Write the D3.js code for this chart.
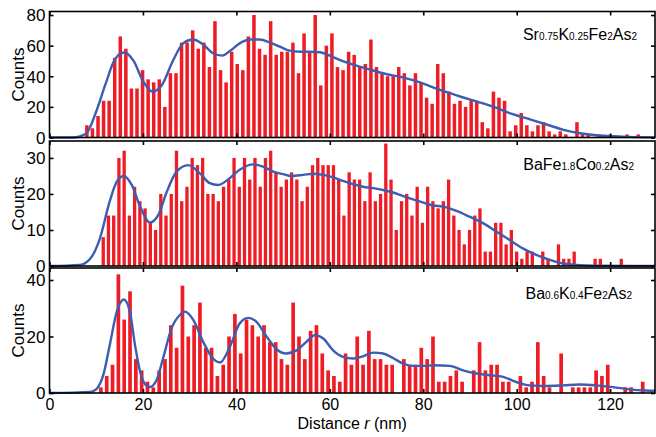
<!DOCTYPE html>
<html>
<head>
<meta charset="utf-8">
<script src="https://cdn.jsdelivr.net/npm/d3@7"></script>
<style>
body { margin: 0; background: #fff; }
text { font-family: "Liberation Sans Narrow", "Liberation Sans", Arial, sans-serif; fill: #000; }
</style>
</head>
<body>
<svg id="chart" width="656" height="437"></svg>
<script>
// histogram bins: first bin centre and bin width (nm) for each sample
var start1 = 8.0, step1 = 1.192;
var start2 = 11.5, step2 = 1.12;
var start3 = 11.0, step3 = 1.247;

var counts1 = [8,6,14,24,24,52,66,58,32,32,44,38,36,38,20,42,42,62,62,70,
  58,62,46,76,44,36,56,48,44,66,80,58,54,76,54,56,56,62,42,68,
  56,80,34,60,68,46,44,56,54,46,48,64,46,42,40,40,46,42,34,42,
  36,26,22,48,42,30,22,24,20,24,24,10,6,30,26,24,4,8,16,8,
  4,8,10,4,2,4,2,0,10,2,2,0,2,0,2,0,0,2,0,2];
var counts2 = [8,14,14,30,32,14,22,18,16,12,10,20,14,20,32,18,22,30,28,30,
  20,20,18,22,24,30,22,30,24,30,22,30,32,26,22,24,26,24,18,22,
  28,30,28,28,28,24,14,26,24,24,18,26,18,20,34,24,10,18,20,14,
  22,12,22,18,16,18,24,14,10,6,10,14,16,4,4,12,12,6,10,4,
  2,4,4,0,4,2,0,6,2,2,4,0,0,0,2,2,0,0,0,2];
var counts3 = [2,6,10,42,26,36,12,8,4,2,8,12,24,16,38,20,24,32,16,16,
  6,10,20,28,14,26,24,20,24,18,18,12,10,32,20,12,22,24,14,8,
  6,4,14,10,20,10,22,12,12,10,10,0,12,10,10,16,12,20,4,4,
  6,8,4,0,8,18,8,10,10,4,4,0,6,2,4,18,6,2,0,14,
  0,2,2,2,2,8,6,10,0,0,2,2,0,4];

// fitted curves (distance r, counts)
var fitR1 = [0,5,6.5,8,10,12,14,16,18,20,22,24,26.4,28.6,30.7,32.8,35,37,38.6,40.7,42.9,45,47.2,49.3,51.4,53.6,55.7,57.9,60,62.1,65,68.6,72,75.6,79.3,82.8,85,88.4,92,95.7,99,103,106.4,110,113.5,117,120.5,124,129.6];
var fitC1 = [0,0,0.8,3,17,35,51,55.5,50,37,30,34,50,61.5,64,61,55,53.5,56.5,61.5,64,64,62,59.3,56.7,56,56,55.7,53.5,50.7,47.6,44.3,41.5,39.3,36,32,29.6,26.3,23,19.3,15.4,11.7,8.5,5,2.8,1.5,0.9,0.4,0.1];
var fitR2 = [0,6.5,8.7,10.8,12.9,14.4,15.9,17.6,19.4,21.5,23.3,25.1,27.2,29.7,32.2,34.3,36.1,38.6,40.7,43.6,45.7,47.9,50,51.8,54.3,56.4,58.6,60.7,62.8,65,67.1,69.3,71.4,73.5,75.7,77.8,80,82.1,84.2,87.1,89.9,92.8,95.7,98.5,101.3,104.2,107.1,109.9,112.8,117,129.6];
var fitC2 = [0,0.3,2,7.7,18,23.4,25,22.5,16.5,12.1,14.2,20.6,26.2,28,25.7,23,22.5,24.4,26.7,28.2,27.6,26.2,25.5,25,25.3,25.6,25.3,24.6,23.6,22.7,22,21.6,21.1,20.4,19.4,18.5,17.6,16.8,16.5,15.3,13.7,11.9,9.5,7.2,4.9,3.1,1.7,0.7,0.3,0.1,0];
var fitR3 = [0,8.7,10.1,11.5,12.9,14.4,15.9,17.2,18.3,19.4,20.8,21.5,22.9,24.3,26.1,27.9,29,30.8,32.9,35,36.5,38.6,40.7,42.5,44.3,46.5,48.6,50.7,52.9,55,56.8,58.6,60.7,62.8,65,67.1,69.3,71.4,73.5,75.7,77.8,80,82.1,85.7,88.5,91.4,94.2,97.1,99.9,102.8,106.4,109.9,113.5,117,120.6,124.2,127.7,129.6];
var fitC3 = [0,0.4,1.5,6.3,17,28.8,33.1,28.8,17,7.5,2.5,2.1,4.5,12.2,22.8,27.6,28.8,25.8,18.1,12.2,10.8,16.3,24.6,26.6,25.2,19.9,15.5,14,15.1,18.1,20.5,19.3,15.1,12.8,12.2,13,14.3,14,12.4,10.4,9.6,9.6,9.8,9.6,8,6.9,6.3,5.7,3.9,2.7,2.5,2.7,3,2.7,2.1,1.3,0.9,0.8];

var yTicks1 = [0,20,40,60,80];
var yTicks2 = [0,10,20,30];
var yTicks3 = [0,20,40];
var xTicks = [0,20,40,60,80,100,120];

var label1 = [["Sr",0],["0.75",1],["K",0],["0.25",1],["Fe",0],["2",1],["As",0],["2",1]];
var label2 = [["BaFe",0],["1.8",1],["Co",0],["0.2",1],["As",0],["2",1]];
var label3 = [["Ba",0],["0.6",1],["K",0],["0.4",1],["Fe",0],["2",1],["As",0],["2",1]];

var panels = [
  {start:start1, step:step1, counts:counts1, fr:fitR1, fc:fitC1, ymax:82.3, top:11.5, bottom:137.5, ticks:yTicks1, label:label1, lx:637, ly:40},
  {start:start2, step:step2, counts:counts2, fr:fitR2, fc:fitC2, ymax:34.7, top:141, bottom:266, ticks:yTicks2, label:label2, lx:634, ly:170},
  {start:start3, step:step3, counts:counts3, fr:fitR3, fc:fitC3, ymax:44.25, top:268, bottom:393, ticks:yTicks3, label:label3, lx:632, ly:299}
];

var svg = d3.select("#chart");
var left = 49.5, right = 655;
var x = d3.scaleLinear().domain([0,129.6]).range([left,right]);

panels.forEach(function(p, pi){
  var y = d3.scaleLinear().domain([0,p.ymax]).range([p.bottom,p.top]);
  var g = svg.append("g");
  var bw = (x(p.step) - x(0)) * 0.63;

  g.selectAll("rect.bar")
    .data(p.counts)
    .enter().append("rect")
    .attr("class","bar")
    .attr("x", function(d,i){ return x(p.start + i*p.step) - bw/2; })
    .attr("width", bw)
    .attr("y", function(d){ return y(d); })
    .attr("height", function(d){ return y(0) - y(d); })
    .style("fill","#ee1c24");

  var pts = p.fr.map(function(r,i){ return [r, p.fc[i]]; });
  var line = d3.line()
    .x(function(d){ return x(d[0]); })
    .y(function(d){ return y(d[1]); })
    .curve(d3.curveMonotoneX);
  g.append("path")
    .attr("d", line(pts))
    .style("fill","none")
    .style("stroke","#3d5db0")
    .style("stroke-width",2.4);

  // inward ticks on all four sides
  var rAx = g.append("g").attr("transform","translate(" + right + ",0)")
    .call(d3.axisLeft(y).tickValues(p.ticks).tickSize(4).tickFormat(""));
  var lTk = g.append("g").attr("transform","translate(" + left + ",0)")
    .call(d3.axisRight(y).tickValues(p.ticks).tickSize(4).tickFormat(""));
  var tAx = g.append("g").attr("transform","translate(0," + p.top + ")")
    .call(d3.axisBottom(x).tickValues(xTicks).tickSize(4).tickFormat(""));
  var bAx = g.append("g").attr("transform","translate(0," + p.bottom + ")")
    .call(d3.axisTop(x).tickValues(xTicks).tickSize(4).tickFormat(""));
  [rAx,lTk,tAx,bAx].forEach(function(a){
    a.select(".domain").remove();
    a.selectAll("line").style("stroke","#000").style("stroke-width",1.6);
  });

  // y labels
  var lAx = g.append("g").attr("transform","translate(" + left + ",0)")
    .call(d3.axisLeft(y).tickValues(p.ticks).tickSize(0).tickPadding(4));
  lAx.select(".domain").remove();
  lAx.selectAll("text").style("font-size","17px").attr("dy","0.34em");

  g.append("rect")
    .attr("x", left).attr("y", p.top)
    .attr("width", right-left).attr("height", p.bottom-p.top)
    .style("fill","none").style("stroke","#000").style("stroke-width",1.6);

  g.append("text")
    .attr("transform","translate(18," + ((p.top+p.bottom)/2) + ") rotate(-90)")
    .attr("text-anchor","middle")
    .attr("dy","0.36em")
    .style("font-size","17px")
    .text("Counts");

  var t = g.append("text")
    .attr("x", p.lx).attr("y", p.ly)
    .attr("text-anchor","end");
  p.label.forEach(function(part){
    t.append("tspan").text(part[0]).style("font-size", part[1] ? "10px" : "16px");
  });

  if (pi === 2) {
    var xAx = g.append("g").attr("transform","translate(0," + p.bottom + ")")
      .call(d3.axisBottom(x).tickValues(xTicks).tickSize(0).tickPadding(6));
    xAx.select(".domain").remove();
    xAx.selectAll("text").style("font-size","16px");
  }
});

var xl = svg.append("text")
  .attr("x", (left+right)/2).attr("y", 429)
  .attr("text-anchor","middle")
  .style("font-size","16px");
xl.append("tspan").text("Distance ");
xl.append("tspan").text("r").style("font-style","italic");
xl.append("tspan").text(" (nm)");
</script>
</body>
</html>
